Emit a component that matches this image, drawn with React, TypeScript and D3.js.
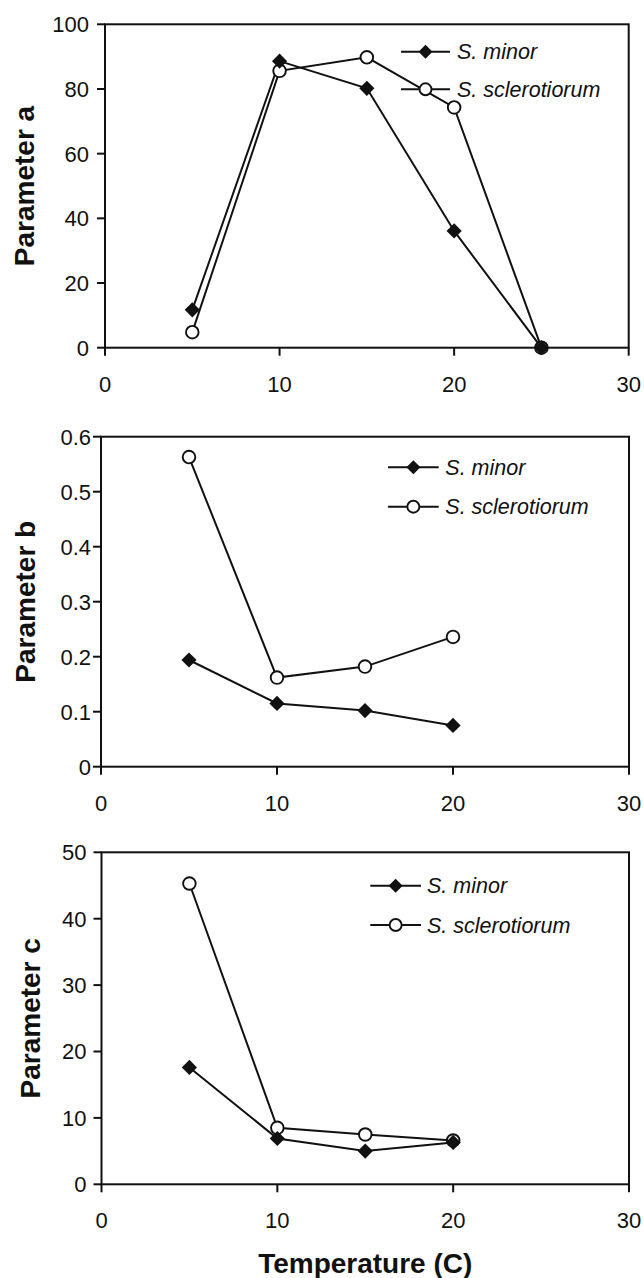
import React from 'react';
import * as d3 from 'd3';

// ---- data ----
const tempsA = [5, 10, 15, 20, 25];
const tempsBC = [5, 10, 15, 20];
const aMinor = [11.7, 88.6, 80.2, 36.1, 0];
const aScl = [4.8, 85.6, 89.8, 74.3, 0];
const bMinor = [0.194, 0.115, 0.102, 0.075];
const bScl = [0.563, 0.162, 0.182, 0.236];
const cMinor = [17.6, 6.9, 5.0, 6.3];
const cScl = [45.3, 8.5, 7.5, 6.6];
const xTicks = [0, 10, 20, 30];
const aTicks = [0, 20, 40, 60, 80, 100];
const bTicks = [0, 0.1, 0.2, 0.3, 0.4, 0.5, 0.6];
const cTicks = [0, 10, 20, 30, 40, 50];
const seriesNames = ['S. minor', 'S. sclerotiorum'];
const yLabels = ['Parameter a', 'Parameter b', 'Parameter c'];
const xLabel = 'Temperature (C)';

// ---- layout ----
const W = 644;
const H = 1278;
const FONT = "'Liberation Sans', Arial, Helvetica, sans-serif";
const INK = '#111';

type PanelProps = {
  frame: { l: number; r: number; t: number; b: number };
  xs: number[];
  minor: number[];
  scl: number[];
  yTicks: number[];
  yLabel: string;
  yLabelX: number;
  tickPad: number;
  legend: { x1: number; x2: number; tx: number; y1: number; y2: number };
};

const diamond = (r: number) => `M0,${-r}L${r},0L0,${r}L${-r},0Z`;

function Panel({ frame, xs, minor, scl, yTicks, yLabel, yLabelX, tickPad, legend }: PanelProps) {
  const x = d3.scaleLinear().domain([0, 30]).range([frame.l, frame.r]);
  const yMax = yTicks[yTicks.length - 1];
  const y = d3.scaleLinear().domain([0, yMax]).range([frame.b, frame.t]);
  const line = d3
    .line<[number, number]>()
    .x((d) => x(d[0]))
    .y((d) => y(d[1]));
  const minorPts = xs.map((v, i) => [v, minor[i]] as [number, number]);
  const sclPts = xs.map((v, i) => [v, scl[i]] as [number, number]);
  const cy = (frame.t + frame.b) / 2;
  const lm = (legend.x1 + legend.x2) / 2;
  return (
    <g>
      {/* frame */}
      <rect x={frame.l} y={frame.t} width={frame.r - frame.l} height={frame.b - frame.t} fill="none" stroke={INK} strokeWidth={2} />
      {/* y ticks */}
      {yTicks.map((t) => (
        <g key={'y' + t}>
          <line x1={frame.l - 8} x2={frame.l} y1={y(t)} y2={y(t)} stroke={INK} strokeWidth={2} />
          <text x={frame.l - tickPad} y={y(t)} dy="0.36em" textAnchor="end" fontSize={22} fontFamily={FONT} fill={INK}>
            {String(t)}
          </text>
        </g>
      ))}
      {/* x ticks */}
      {xTicks.map((t) => (
        <g key={'x' + t}>
          <line x1={x(t)} x2={x(t)} y1={frame.b} y2={frame.b + 8} stroke={INK} strokeWidth={2} />
          <text x={x(t)} y={frame.b + 44} textAnchor="middle" fontSize={22} fontFamily={FONT} fill={INK}>
            {String(t)}
          </text>
        </g>
      ))}
      {/* y label */}
      <text
        transform={`translate(${yLabelX},${cy}) rotate(-90)`}
        textAnchor="middle"
        fontSize={28}
        fontWeight="bold"
        fontFamily={FONT}
        fill={INK}
      >
        {yLabel}
      </text>
      {/* series */}
      <path d={line(sclPts) || ''} fill="none" stroke={INK} strokeWidth={2} />
      <path d={line(minorPts) || ''} fill="none" stroke={INK} strokeWidth={2} />
      {sclPts.map((p, i) => (
        <circle key={'c' + i} cx={x(p[0])} cy={y(p[1])} r={6.3} fill="#fff" stroke={INK} strokeWidth={1.9} />
      ))}
      {minorPts.map((p, i) => (
        <path key={'d' + i} d={diamond(7.6)} transform={`translate(${x(p[0])},${y(p[1])})`} fill={INK} />
      ))}
      {/* legend */}
      <line x1={legend.x1} x2={legend.x2} y1={legend.y1} y2={legend.y1} stroke={INK} strokeWidth={2} />
      <path d={diamond(7)} transform={`translate(${lm},${legend.y1})`} fill={INK} />
      <text x={legend.tx} y={legend.y1} dy="0.36em" fontSize={21.5} fontStyle="italic" fontFamily={FONT} fill={INK}>
        {seriesNames[0]}
      </text>
      <line x1={legend.x1} x2={legend.x2} y1={legend.y2} y2={legend.y2} stroke={INK} strokeWidth={2} />
      <circle cx={lm} cy={legend.y2} r={6} fill="#fff" stroke={INK} strokeWidth={1.9} />
      <text x={legend.tx} y={legend.y2} dy="0.36em" fontSize={21.5} fontStyle="italic" fontFamily={FONT} fill={INK}>
        {seriesNames[1]}
      </text>
    </g>
  );
}

export default function App() {
  return (
    <svg
      width={W}
      height={H}
      viewBox={`0 0 ${W} ${H}`}
      style={{ position: 'absolute', left: 0, top: 0, background: '#fff' }}
    >
      <rect x={0} y={0} width={W} height={H} fill="#fff" />
      <Panel
        frame={{ l: 105, r: 628.7, t: 24.3, b: 347.7 }}
        xs={tempsA}
        minor={aMinor}
        scl={aScl}
        yTicks={aTicks}
        yLabel={yLabels[0]}
        yLabelX={33.5}
        tickPad={16}
        legend={{ x1: 401, x2: 450, tx: 457, y1: 51.7, y2: 89.3 }}
      />
      <Panel
        frame={{ l: 101, r: 629, t: 436.7, b: 766.7 }}
        xs={tempsBC}
        minor={bMinor}
        scl={bScl}
        yTicks={bTicks}
        yLabel={yLabels[1]}
        yLabelX={35}
        tickPad={10}
        legend={{ x1: 388, x2: 438.7, tx: 445.3, y1: 467.3, y2: 506.7 }}
      />
      <Panel
        frame={{ l: 101.5, r: 629, t: 852.3, b: 1184.3 }}
        xs={tempsBC}
        minor={cMinor}
        scl={cScl}
        yTicks={cTicks}
        yLabel={yLabels[2]}
        yLabelX={40}
        tickPad={15}
        legend={{ x1: 370.3, x2: 421, tx: 427, y1: 885.7, y2: 925 }}
      />
      <text
        x={(101.5 + 629) / 2}
        y={1273}
        textAnchor="middle"
        fontSize={28}
        fontWeight="bold"
        fontFamily={FONT}
        fill={INK}
      >
        {xLabel}
      </text>
    </svg>
  );
}
